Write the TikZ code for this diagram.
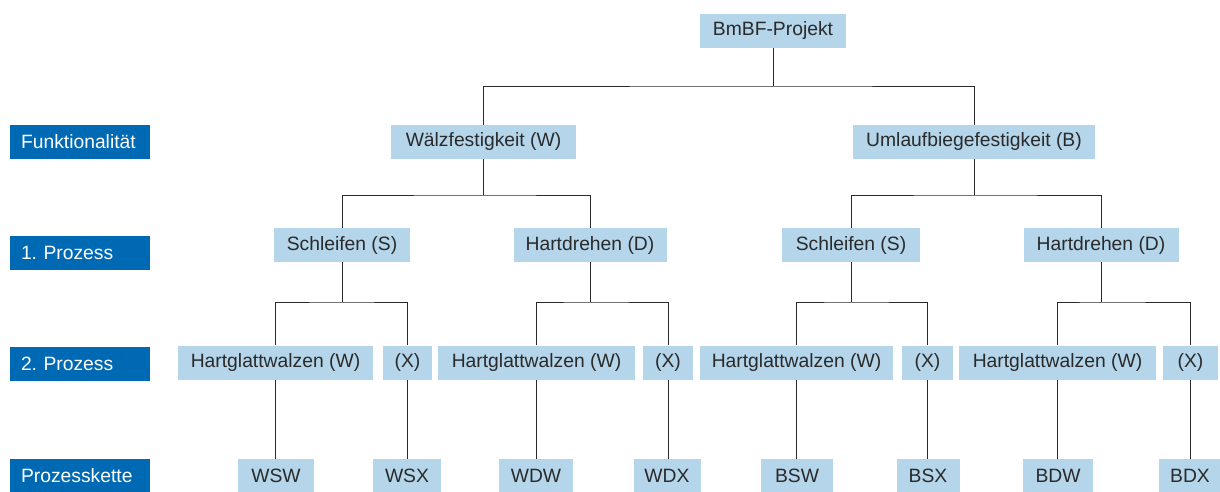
\documentclass[tikz,border=0pt]{standalone}
\usepackage{fontspec}
\setmainfont{Liberation Sans}
\definecolor{lb}{HTML}{B4D5EA}
\definecolor{db}{HTML}{0069B4}
\definecolor{tx}{HTML}{2A2A2A}
\frenchspacing
\begin{document}
\begin{tikzpicture}[x=1pt,y=-1pt,
  box/.style={fill=lb, inner sep=0pt, minimum height=34pt, text=tx,
    font=\fontsize{19.3}{22}\selectfont},
  lab/.style={fill=db, text=white, inner xsep=11pt, inner ysep=0pt, minimum height=34pt,
    text width=118pt, align=left, font=\fontsize{19.3}{22}\selectfont},
  conn/.style={draw=tx, line width=1pt}]
\useasboundingbox (0,0) rectangle (1220,491);

% left labels
\node[lab] (l1) at (80,142) {Funktionalität};
\node[lab] (l2) at (80,253) {1. Prozess};
\node[lab] (l3) at (80,364) {2. Prozess};
\node[lab] (l4) at (80,476) {Prozesskette};

% level 0
\node[box, minimum width=146pt] (root) at (773,30.5) {BmBF-Projekt};
% level 1
\node[box, minimum width=185pt] (wf) at (483.5,142) {Wälzfestigkeit (W)};
\node[box, minimum width=242pt] (ub) at (974,142) {Umlaufbiegefestigkeit (B)};
% level 2
\node[box, minimum width=136pt] (ws) at (342,245) {Schleifen (S)};
\node[box, minimum width=153pt] (wd) at (590,245) {Hartdrehen (D)};
\node[box, minimum width=138pt] (bs) at (851,245) {Schleifen (S)};
\node[box, minimum width=155pt] (bd) at (1101,245) {Hartdrehen (D)};
% level 3
\node[box, minimum width=195pt] (wsw) at (275.5,362.5) {Hartglattwalzen (W)};
\node[box, minimum width=49pt] (wsx) at (407.5,362.5) {(X)};
\node[box, minimum width=197pt] (wdw) at (536.5,362.5) {Hartglattwalzen (W)};
\node[box, minimum width=50pt] (wdx) at (668,362.5) {(X)};
\node[box, minimum width=193pt] (bsw) at (796.5,362.5) {Hartglattwalzen (W)};
\node[box, minimum width=51pt] (bsx) at (927.5,362.5) {(X)};
\node[box, minimum width=197pt] (bdw) at (1057.5,362.5) {Hartglattwalzen (W)};
\node[box, minimum width=55pt] (bdx) at (1190.5,362.5) {(X)};
% level 4
\node[box, minimum width=76pt] (kwsw) at (276,476) {WSW};
\node[box, minimum width=68pt] (kwsx) at (407,476) {WSX};
\node[box, minimum width=74pt] (kwdw) at (536,476) {WDW};
\node[box, minimum width=67pt] (kwdx) at (667,476) {WDX};
\node[box, minimum width=72pt] (kbsw) at (797,476) {BSW};
\node[box, minimum width=63pt] (kbsx) at (928,476) {BSX};
\node[box, minimum width=70pt] (kbdw) at (1058,476) {BDW};
\node[box, minimum width=63pt] (kbdx) at (1190,476) {BDX};

% junctions
\coordinate (j0) at (773,86);
\coordinate (j1) at (483.5,195);
\coordinate (j2) at (974,195);
\coordinate (j3) at (342,302);
\coordinate (j4) at (590,302);
\coordinate (j5) at (851,302);
\coordinate (j6) at (1101,302);
\coordinate (jog) at (407,419);

% connectors
\draw[conn] (root.south) -- (j0);
\draw[conn] (wf.north) |- (j0) -| (ub.north);
\draw[conn] (wf.south) -- (j1);
\draw[conn] (ws.north) |- (j1) -| (wd.north);
\draw[conn] (ub.south) -- (j2);
\draw[conn] (bs.north) |- (j2) -| (bd.north);
\draw[conn] (ws.south) -- (j3);
\draw[conn] (wsw.north) |- (j3) -| (wsx.north);
\draw[conn] (wd.south) -- (j4);
\draw[conn] (wdw.north) |- (j4) -| (wdx.north);
\draw[conn] (bs.south) -- (j5);
\draw[conn] (bsw.north) |- (j5) -| (bsx.north);
\draw[conn] (bd.south) -- (j6);
\draw[conn] (bdw.north) |- (j6) -| (bdx.north);
\draw[conn] (wsw.south) -- (wsw.south |- kwsw.north);
\draw[conn] (wsx.south) |- (jog) -- (kwsx.north);
\draw[conn] (wdw.south) -- (wdw.south |- kwdw.north);
\draw[conn] (wdx.south) -- (wdx.south |- kwdx.north);
\draw[conn] (bsw.south) -- (bsw.south |- kbsw.north);
\draw[conn] (bsx.south) -- (bsx.south |- kbsx.north);
\draw[conn] (bdw.south) -- (bdw.south |- kbdw.north);
\draw[conn] (bdx.south) -- (bdx.south |- kbdx.north);
\end{tikzpicture}
\end{document}
